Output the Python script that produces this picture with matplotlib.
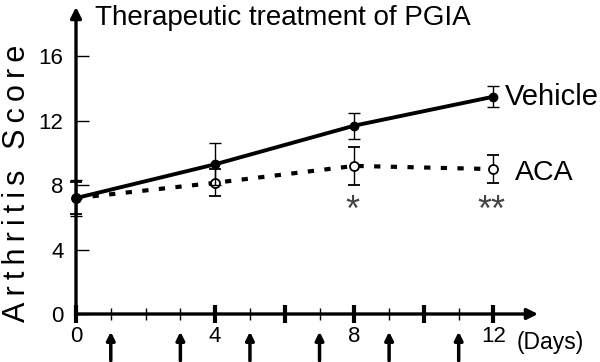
import numpy as np
import matplotlib.pyplot as plt

plt.rcParams['font.family'] = ['Liberation Sans', 'DejaVu Sans']

# data
days = [0, 4, 8, 12]
vehicle = [7.2, 9.3, 11.7, 13.5]
vehicle_err = [1.1, 1.3, 0.8, 0.65]
aca = [7.2, 8.15, 9.2, 9.0]
aca_err = [1.0, 0.85, 1.2, 0.85]
dose_days = [1, 3, 5, 7, 9, 11]
sig_days = [8, 12]
sig_marks = ['*', '**']

fig = plt.figure(figsize=(6, 3.62), dpi=100)
ax = fig.add_axes([76 / 600, 48 / 362, 462 / 600, 307 / 362])
ax.set_xlim(0, 13.28)
ax.set_ylim(0, 19.07)
for s in ax.spines.values():
    s.set_visible(False)

# axes with arrow heads
ax.annotate('', xy=(13.28, 0), xytext=(0, 0), annotation_clip=False,
            arrowprops=dict(arrowstyle='-|>', lw=2.4, color='k',
                            mutation_scale=16, shrinkA=0, shrinkB=0))
ax.annotate('', xy=(0, 19.07), xytext=(0, 0), annotation_clip=False,
            arrowprops=dict(arrowstyle='-|>', lw=2.4, color='k',
                            mutation_scale=16, shrinkA=0, shrinkB=0))

ax.set_xticks([0, 4, 6, 8, 10, 12])
ax.set_xticklabels(['0', '4', '', '8', '', '12'])
ax.set_xticks([1, 2, 3, 5, 7, 9, 11], minor=True)
ax.tick_params(axis='x', which='major', direction='inout', length=13, width=3,
               labelsize=16, pad=2)
ax.tick_params(axis='x', which='minor', direction='inout', length=9, width=1)
ax.set_yticks([0, 4, 8, 12, 16])
ax.tick_params(axis='y', direction='in', length=9, width=1, labelsize=16, pad=9)

ax.errorbar(days, vehicle, yerr=vehicle_err, fmt='o-', color='k', lw=2.8,
            ms=6, elinewidth=1, capsize=4, capthick=1, clip_on=False, zorder=4)
ax.errorbar(days, aca, yerr=aca_err, fmt='o', linestyle=(0, (1.5, 2.5)),
            color='k', lw=3, ms=6.5, mfc='white', mew=1.3, elinewidth=1,
            capsize=4, capthick=1, clip_on=False, zorder=3)

for d, m in zip(sig_days, sig_marks):
    ax.text(d - 0.05, 5.8, m, ha='center', va='baseline', fontsize=26,
            color='#444444')

for d in dose_days:
    ax.annotate('', xy=(d, -1.1), xytext=(d, -2.9), annotation_clip=False,
                arrowprops=dict(arrowstyle='-|>', lw=2.5, color='k',
                                mutation_scale=12, shrinkA=0, shrinkB=0))

ax.text(12.33, 12.98, 'Vehicle', fontsize=21, va='baseline', ha='left')
ax.text(12.61, 8.32, 'ACA', fontsize=20.5, va='baseline', ha='left')
ax.text(12.67, -1.74, '(Days)', fontsize=16.5, va='center', ha='left',
        clip_on=False)

fig.text(95 / 600, 1 - 25 / 362, 'Therapeutic treatment of PGIA',
         fontsize=20, va='baseline', ha='left')
ylab = '\u2009'.join('Arthritis') + '\u2009 \u2009' + '\u2009'.join('Score')
fig.text(25 / 600, 1 - 183.5 / 362, ylab, fontsize=22, rotation=90,
         rotation_mode='anchor', va='baseline', ha='center')

fig.savefig('out.png', dpi=100)
